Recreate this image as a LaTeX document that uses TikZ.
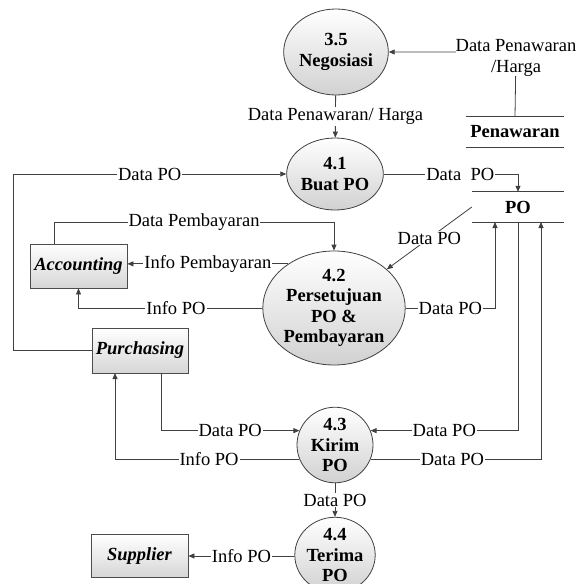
\documentclass[tikz,border=0pt]{standalone}
\usepackage{fontspec}
\setmainfont{Liberation Serif}
\usetikzlibrary{shapes.geometric,arrows.meta}
\begin{document}
\begin{tikzpicture}[x=1pt,y=-1pt,
  every node/.style={font=\fontsize{18.5}{20.5}\selectfont},
  proc/.style={ellipse,draw=black!75,line width=0.8pt,top color=white,bottom color=black!18,
     inner sep=0pt,align=center,font=\fontsize{18.5}{20.5}\selectfont\bfseries},
  ext/.style={rectangle,draw=black!70,line width=0.8pt,top color=white,bottom color=black!16,
     inner sep=0pt,font=\fontsize{18.5}{20.5}\selectfont\bfseries\itshape},
  store/.style={rectangle,inner sep=0pt,font=\fontsize{18.5}{20.5}\selectfont\bfseries},
  flow/.style={draw=black!75,line width=0.8pt,-{Triangle[length=6pt,width=5pt]}},
  plain/.style={draw=black!75,line width=0.8pt},
  lbl/.style={fill=white,inner sep=1pt,text=black}]
\useasboundingbox (0,0) rectangle (577,584);

% processes
\node[proc,minimum width=98pt,minimum height=86pt] (n35) at (336,52) {3.5\\Negosiasi};
\node[proc,minimum width=86pt,minimum height=72pt] (n41) at (335,174) {4.1\\Buat PO};
\node[proc,minimum width=128pt,minimum height=114pt] (n42) at (334,308) {4.2\\Persetujuan\\PO \&\\Pembayaran};
\node[proc,minimum width=76pt,minimum height=68pt] (n43) at (335,445) {4.3\\Kirim\\PO};
\node[proc,minimum width=76pt,minimum height=62pt] (n44) at (335,555) {4.4\\Terima\\PO};

% externals
\node[ext,minimum width=97pt,minimum height=44pt] (acc) at (78.5,266) {Accounting};
\node[ext,minimum width=96pt,minimum height=45pt] (purch) at (140,350.5) {Purchasing};
\node[ext,minimum width=97pt,minimum height=43pt] (sup) at (139.5,556) {Supplier};

% data stores
\node[store,minimum width=98pt,minimum height=30pt] (pen) at (515,132) {Penawaran};
\draw[plain] (pen.north west) -- (pen.north east) (pen.south west) -- (pen.south east);
\node[store,minimum width=92pt,minimum height=30pt] (po) at (518,207) {PO};
\draw[plain] (po.north west) -- (po.north east) (po.south west) -- (po.south east);

% helper coordinates
\coordinate (k1) at (13,174);
\coordinate (k2) at (518,174);
\coordinate (k3) at (54,222);
\coordinate (k4) at (495,222);
\coordinate (k5) at (541,222);
\coordinate (k6) at (161,373);
\coordinate (k7) at (115,373);
\coordinate (k8) at (516,52);

% flows
\draw[flow] (pen.north) -- (k8) -- (n35.east);
\node[lbl,align=center,inner sep=0pt] (lpen) at (516,58) {Data Penawaran\\/Harga};

\draw[flow] (n35) -- node[lbl]{Data Penawaran/ Harga} (n41);

\draw[flow] (purch.west) -| (k1) -- node[lbl]{Data PO} (n41.west);

\draw[flow] (n41.east) -- node[lbl,pos=0.57]{Data\ \ PO} (k2) -- (po.north);

\draw[flow] (po.west) -- node[lbl]{Data PO} (n42);

\draw[flow] (k3 |- acc.north) -- (k3) -| node[lbl,pos=0.25]{Data Pembayaran} (n42.north);

\draw[flow] (n42.136) -- node[lbl]{Info Pembayaran} (acc.east |- n42.136);

\draw[flow] (n42.west) -| node[lbl,pos=0.235]{Info PO} (acc.south);

\draw[flow] (n42.east) -| node[lbl,pos=0.25]{Data PO} (k4);

\draw[flow] (po.south) |- node[lbl,pos=0.75]{Data PO} (n43.22);

\draw[flow] (n43.-22) -| node[lbl,pos=0.24]{Data PO} (k5);

\draw[flow] (k6) |- node[lbl,pos=0.75]{Data PO} (n43.158);

\draw[flow] (n43.-158) -| node[lbl,pos=0.245]{Info PO} (k7);

\draw[flow] (n43) -- node[lbl]{Data PO} (n44);

\draw[flow] (n44.west |- sup.east) -- node[lbl]{Info PO} (sup.east);
\end{tikzpicture}
\end{document}
